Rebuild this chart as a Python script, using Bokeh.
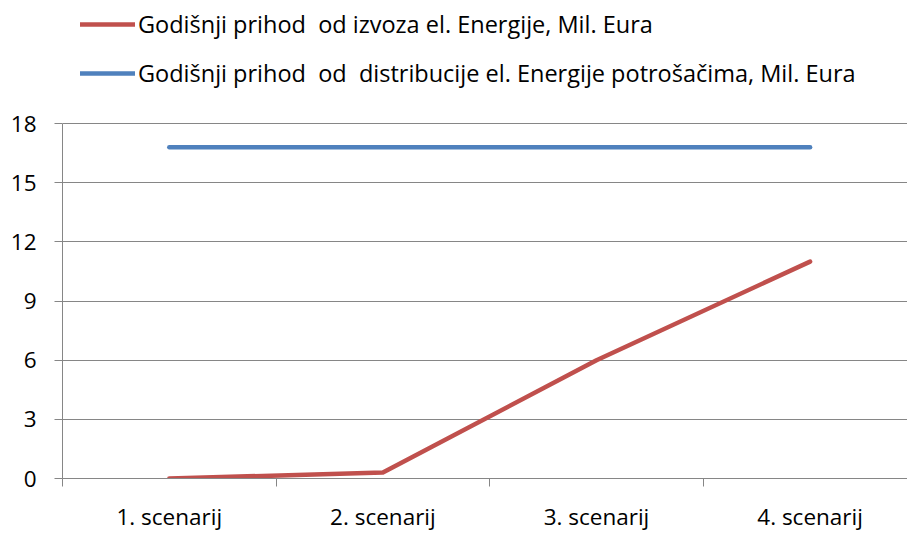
from bokeh.plotting import figure
from bokeh.models import Range1d, FixedTicker, Legend, LegendItem
from bokeh.embed import file_html
from bokeh.resources import INLINE

categories = ["1. scenarij", "2. scenarij", "3. scenarij", "4. scenarij"]
izvoz = [0.0, 0.3, 6.0, 11.0]
distribucija = [16.8, 16.8, 16.8, 16.8]
y_ticks = [0, 3, 6, 9, 12, 15, 18]
label_izvoz = "Godišnji prihod  od izvoza el. Energije, Mil. Eura"
label_distr = "Godišnji prihod  od  distribucije el. Energije potrošačima, Mil. Eura"

FONT = "Open Sans"
GRID = "#868686"

xs = [i + 0.5 for i in range(len(categories))]

p = figure(width=907, height=534, output_backend="svg", toolbar_location=None, title=None,
           x_range=Range1d(0, 3.956), y_range=Range1d(0, 24.24),
           min_border_left=62, min_border_right=0, min_border_top=0, min_border_bottom=56)
p.outline_line_color = None
p.background_fill_color = "white"
p.border_fill_color = "white"

r_red = p.line(xs, izvoz, line_color="#C0504D", line_width=4.5, line_cap="round", line_join="round")
r_blue = p.line(xs, distribucija, line_color="#4F81BD", line_width=4.5, line_cap="round", line_join="round")

# Y axis
p.yaxis.ticker = FixedTicker(ticks=y_ticks)
p.yaxis.bounds = (0, 18)
p.yaxis.axis_line_color = GRID
p.yaxis.major_tick_line_color = GRID
p.yaxis.major_tick_out = 8
p.yaxis.major_tick_in = 0
p.yaxis.minor_tick_line_color = None
p.yaxis.major_label_text_font = FONT
p.yaxis.major_label_text_font_size = "22.5px"
p.yaxis.major_label_text_color = "black"
p.yaxis.major_label_standoff = 18

# X axis
p.xaxis.ticker = FixedTicker(ticks=xs, minor_ticks=list(range(len(categories) + 1)))
p.xaxis.major_label_overrides = {x: c for x, c in zip(xs, categories)}
p.xaxis.axis_line_color = GRID
p.xaxis.major_tick_line_color = None
p.xaxis.major_tick_out = 0
p.xaxis.major_tick_in = 0
p.xaxis.minor_tick_line_color = GRID
p.xaxis.minor_tick_out = 8
p.xaxis.minor_tick_in = 0
p.xaxis.major_label_text_font = FONT
p.xaxis.major_label_text_font_size = "22.5px"
p.xaxis.major_label_text_color = "black"
p.xaxis.major_label_standoff = 14

p.xgrid.grid_line_color = None
p.ygrid.ticker = FixedTicker(ticks=y_ticks)
p.ygrid.grid_line_color = GRID
p.ygrid.grid_line_width = 1

legend = Legend(items=[LegendItem(label=label_izvoz, renderers=[r_red]),
                       LegendItem(label=label_distr, renderers=[r_blue])],
                location=(18, 389), orientation="vertical",
                label_text_font=FONT, label_text_font_size="23.5px", label_text_color="black",
                glyph_width=55, glyph_height=22, label_height=22, label_standoff=3,
                spacing=17, padding=0, margin=0, border_line_color=None,
                background_fill_alpha=0)
p.add_layout(legend, "center")

open("out.html", "w").write(file_html(p, INLINE))
